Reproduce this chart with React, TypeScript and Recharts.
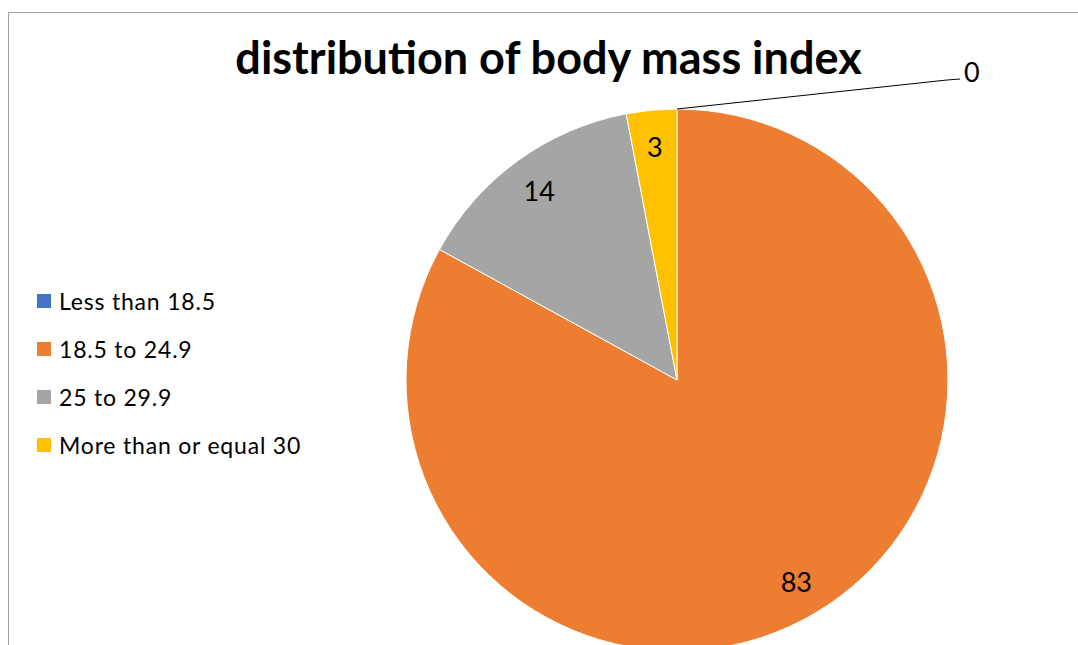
import { PieChart, Pie, Cell } from 'recharts';

const categories = ['Less than 18.5', '18.5 to 24.9', '25 to 29.9', 'More than or equal 30'];
const shares = [0, 83, 14, 3];
const colors = ['#4472C4', '#ED7D31', '#A5A5A5', '#FFC000'];
const title = 'distribution of body mass index';

const data = categories.map((name, i) => ({ name, value: shares[i] }));

const RAD = Math.PI / 180;

const renderLabel = (props: any) => {
  const { cx, cy, midAngle, outerRadius, value, index } = props;
  if (value === 0) {
    // zero slice: leader line out to the upper right
    const sx = cx + outerRadius * Math.cos(-midAngle * RAD);
    const sy = cy + outerRadius * Math.sin(-midAngle * RAD);
    return (
      <g key={`lbl-${index}`}>
        <polyline points={`${sx},${sy} ${sx + 270},${sy - 29} ${sx + 283},${sy - 30}`} fill="none" stroke="#000" strokeWidth={1} />
        <text x={sx + 287} y={sy - 38} fill="#000" fontSize={27} fontFamily="Lato" dominantBaseline="central">
          {value}
        </text>
      </g>
    );
  }
  const r = outerRadius * 0.865;
  const x = cx + r * Math.cos(-midAngle * RAD);
  const y = cy + r * Math.sin(-midAngle * RAD);
  return (
    <text key={`lbl-${index}`} x={x} y={y} fill="#000" fontSize={27} fontFamily="Lato" textAnchor="middle" dominantBaseline="central">
      {value}
    </text>
  );
};

const App = () => {
  return (
    <div style={{ position: 'fixed', left: 0, top: 0, width: 1078, height: 645, overflow: 'hidden', background: '#fff' }}>
      <div style={{ position: 'absolute', left: 8, top: 12, width: 1080, height: 660, borderLeft: '1px solid #a0a0a0', borderTop: '1px solid #a0a0a0' }} />
      <div style={{ position: 'absolute', left: 0, top: 30, width: 1097, textAlign: 'center', fontFamily: 'Lato', fontWeight: 'bold', fontSize: 45, color: '#000' }}>
        {title}
      </div>
      <div style={{ position: 'absolute', left: 0, top: 0 }}>
        <PieChart width={1078} height={645} margin={{ top: 0, right: 0, bottom: 0, left: 0 }}>
          <Pie
            data={data}
            dataKey="value"
            nameKey="name"
            cx={677}
            cy={380}
            outerRadius={271}
            startAngle={90}
            endAngle={-270}
            stroke="#fff"
            strokeWidth={1}
            label={renderLabel}
            labelLine={false}
            isAnimationActive={false}
          >
            {data.map((d, i) => (
              <Cell key={d.name} fill={colors[i]} />
            ))}
          </Pie>
        </PieChart>
      </div>
      <div style={{ position: 'absolute', left: 37, top: 277, fontFamily: 'Lato', fontSize: 23, letterSpacing: 0.8, color: '#000' }}>
        {categories.map((c, i) => (
          <div key={c} style={{ display: 'flex', alignItems: 'center', height: 48 }}>
            <div style={{ width: 14, height: 14, background: colors[i], marginRight: 8 }} />
            <span>{c}</span>
          </div>
        ))}
      </div>
    </div>
  );
};

export default App;
